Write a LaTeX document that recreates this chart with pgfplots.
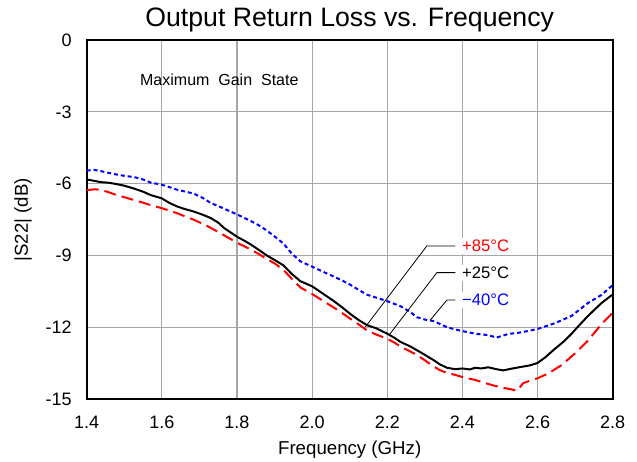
\documentclass[border=0pt]{standalone}
\usepackage{fontspec}
\setmainfont{Liberation Sans}
\usepackage{pgfplots}
\pgfplotsset{compat=1.18}

\pgfplotstableread{
x y
1.400 -5.82
1.420 -5.88
1.437 -5.93
1.460 -5.96
1.481 -6.02
1.500 -6.08
1.526 -6.20
1.550 -6.33
1.570 -6.47
1.600 -6.61
1.620 -6.80
1.641 -6.95
1.660 -7.05
1.685 -7.16
1.710 -7.30
1.730 -7.43
1.750 -7.62
1.765 -7.84
1.780 -8.00
1.800 -8.21
1.820 -8.38
1.836 -8.53
1.860 -8.78
1.880 -9.00
1.900 -9.18
1.924 -9.41
1.945 -9.75
1.969 -10.07
2.000 -10.28
2.030 -10.60
2.057 -10.89
2.080 -11.16
2.102 -11.44
2.125 -11.70
2.146 -11.90
2.170 -12.03
2.200 -12.26
2.220 -12.44
2.235 -12.60
2.260 -12.78
2.279 -12.95
2.300 -13.14
2.323 -13.36
2.340 -13.54
2.359 -13.68
2.381 -13.74
2.400 -13.71
2.420 -13.75
2.434 -13.68
2.450 -13.71
2.469 -13.66
2.490 -13.74
2.509 -13.79
2.530 -13.72
2.558 -13.64
2.580 -13.58
2.600 -13.48
2.620 -13.25
2.646 -12.89
2.670 -12.58
2.690 -12.27
2.710 -11.92
2.734 -11.52
2.750 -11.28
2.770 -10.98
2.785 -10.80
2.800 -10.62
}\tblack

\pgfplotstableread{
x y
1.400 -6.27
1.420 -6.23
1.437 -6.25
1.460 -6.36
1.481 -6.48
1.500 -6.56
1.526 -6.68
1.550 -6.79
1.570 -6.89
1.600 -7.02
1.620 -7.12
1.641 -7.23
1.660 -7.35
1.685 -7.50
1.710 -7.68
1.730 -7.84
1.760 -8.10
1.800 -8.46
1.836 -8.74
1.860 -8.95
1.880 -9.15
1.900 -9.32
1.924 -9.60
1.945 -9.95
1.969 -10.33
2.000 -10.60
2.030 -10.90
2.057 -11.16
2.080 -11.40
2.102 -11.64
2.125 -11.88
2.146 -12.12
2.170 -12.29
2.200 -12.47
2.220 -12.64
2.235 -12.80
2.260 -12.99
2.279 -13.15
2.300 -13.37
2.323 -13.62
2.340 -13.78
2.359 -13.90
2.381 -13.98
2.400 -14.07
2.434 -14.19
2.469 -14.36
2.490 -14.45
2.513 -14.53
2.530 -14.58
2.544 -14.64
2.550 -14.55
2.562 -14.32
2.580 -14.22
2.600 -14.12
2.628 -13.92
2.664 -13.57
2.699 -13.09
2.734 -12.55
2.770 -11.86
2.800 -11.38
}\tred

\pgfplotstableread{
x y
1.400 -5.45
1.420 -5.42
1.437 -5.47
1.460 -5.55
1.481 -5.62
1.500 -5.67
1.526 -5.72
1.550 -5.82
1.570 -5.95
1.600 -6.04
1.620 -6.14
1.641 -6.25
1.660 -6.32
1.685 -6.41
1.710 -6.60
1.730 -6.80
1.760 -7.00
1.800 -7.28
1.836 -7.55
1.860 -7.75
1.880 -7.96
1.900 -8.20
1.924 -8.50
1.945 -8.90
1.969 -9.24
2.000 -9.46
2.030 -9.68
2.057 -9.87
2.080 -10.04
2.102 -10.22
2.125 -10.44
2.146 -10.63
2.170 -10.75
2.200 -10.90
2.235 -11.11
2.260 -11.34
2.279 -11.57
2.300 -11.67
2.323 -11.73
2.340 -11.85
2.359 -11.99
2.381 -12.08
2.400 -12.15
2.434 -12.26
2.469 -12.32
2.491 -12.42
2.522 -12.27
2.558 -12.20
2.600 -12.06
2.646 -11.82
2.690 -11.52
2.734 -10.98
2.770 -10.64
2.800 -10.23
}\tblue

\begin{document}
\begin{tikzpicture}
\begin{axis}[
  scale only axis,
  width=394.5pt, height=269.5pt,
  xmin=1.4, xmax=2.8, ymin=-15, ymax=0,
  xtick={1.4,1.6,1.8,2.0,2.2,2.4,2.6,2.8},
  xticklabels={1.4,1.6,1.8,2.0,2.2,2.4,2.6,2.8},
  ytick={-15,-12,-9,-6,-3,0},
  yticklabels={-15,-12,-9,-6,-3,0},
  major tick length=0pt,
  tick style={draw=none},
  grid=major,
  major grid style={draw=black!35, line width=0.9pt},
  axis line style={black, line width=1.5pt},
  ticklabel style={font=\fontsize{13.5}{16}\selectfont},
  xticklabel style={anchor=north, inner sep=0pt, yshift=-12.5pt},
  yticklabel style={anchor=east, inner sep=0pt, xshift=-11pt},
  xlabel={Frequency (GHz)},
  xlabel style={at={(axis description cs:0.5,-0.141)}, anchor=center, font=\fontsize{14}{16}\selectfont},
  ylabel={|S22| (dB)},
  ylabel style={at={(axis description cs:-0.121,0.5)}, anchor=center, font=\fontsize{14}{16}\selectfont},
  clip=false,
]
\addplot[blue, line width=1.5pt, dash pattern=on 3pt off 2.2pt] table[x=x,y=y]{\tblue};
\addplot[black, line width=1.5pt] table[x=x,y=y]{\tblack};
\addplot[red, line width=1.5pt, dash pattern=on 9pt off 4.5pt] table[x=x,y=y]{\tred};

\addplot[black, line width=0.6pt] coordinates {(2.381,-8.60) (2.305,-8.60) (2.142,-11.97)};
\addplot[black, line width=0.6pt] coordinates {(2.381,-9.71) (2.332,-9.71) (2.206,-12.29)};
\addplot[black, line width=0.6pt] coordinates {(2.381,-10.85) (2.359,-10.85) (2.314,-11.70)};

\node[anchor=west, fill=white, inner xsep=5pt, inner ysep=1.5pt, text=red, font=\fontsize{12.5}{15}\selectfont] at (axis cs:2.381,-8.60) {+85°C};
\node[anchor=west, fill=white, inner xsep=5pt, inner ysep=1.5pt, text=black, font=\fontsize{12.5}{15}\selectfont] at (axis cs:2.381,-9.71) {+25°C};
\node[anchor=west, fill=white, inner xsep=5pt, inner ysep=1.5pt, text=blue, font=\fontsize{12.5}{15}\selectfont] at (axis cs:2.381,-10.85) {−40°C};

\node[anchor=center, font=\fontsize{12}{14}\selectfont] at (axis cs:1.753,-1.67) {Maximum~~Gain~~State};

\node[anchor=center, font=\fontsize{20}{24}\selectfont] at (axis description cs:0.5,1.0557) {Output Return Loss vs. Frequency};
\end{axis}
\pgfresetboundingbox
\path[use as bounding box] ([shift={(-65pt,-46.3pt)}]current axis.south west) rectangle ([shift={(18.2pt,30pt)}]current axis.north east);
\end{tikzpicture}
\end{document}
